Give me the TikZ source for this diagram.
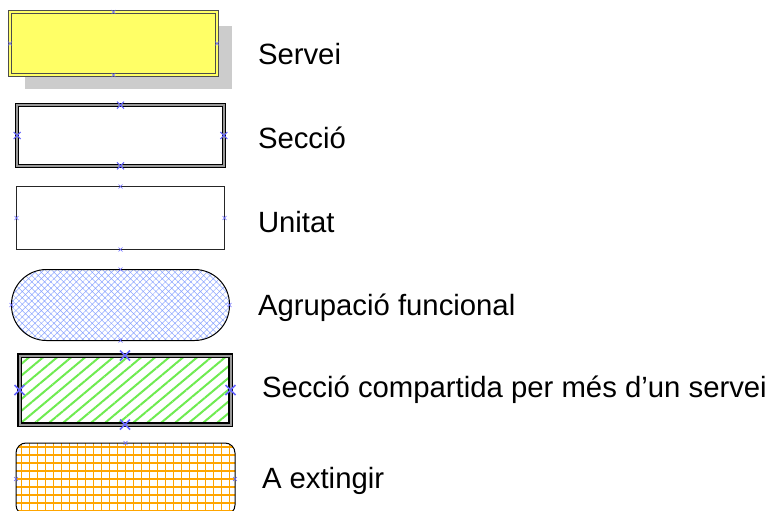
\documentclass[tikz,border=0pt]{standalone}
\usepackage{fontspec}
\setmainfont{Liberation Sans}
\usepackage{tikz}
\usetikzlibrary{calc,patterns.meta,shadows}
\definecolor{servyellow}{RGB}{255,255,102}
\definecolor{cpblue}{RGB}{102,102,255}
\definecolor{hatchblue}{RGB}{140,165,255}
\definecolor{stripegreen}{RGB}{110,235,80}
\definecolor{gridorange}{RGB}{255,165,0}
\newcommand{\cpmarks}[3]{%
  \foreach \a in {north,south,east,west}
    \draw[cpblue,line width=#3] ($(#1.\a)+(-#2,-#2)$) -- ($(#1.\a)+(#2,#2)$) ($(#1.\a)+(-#2,#2)$) -- ($(#1.\a)+(#2,-#2)$);%
}

\begin{document}
\begin{tikzpicture}[x=1pt,y=-1pt,every node/.style={inner sep=0pt,outer sep=0pt},
  lbl/.style={anchor=base west,font=\fontsize{29.3}{35}\selectfont},
  dblbox/.style={draw=black,line width=#1,double=black!40}]
\useasboundingbox (0,0) rectangle (772,511);

\node (servei) [draw=black!70,line width=0.9pt,double=servyellow,double distance=2.2pt,fill=servyellow,
  minimum width=207pt,minimum height=63pt,
  drop shadow={shadow xshift=15pt,shadow yshift=-14pt,fill=black!20,opacity=1}] at (113.5,43.5) {};
\node (seccio) [dblbox=1.2pt,double distance=1.8pt,fill=white,minimum width=206.6pt,minimum height=60.6pt] at (120.5,135.5) {};
\node (unitat) [draw=black!85,line width=1pt,fill=white,minimum width=208pt,minimum height=63pt] at (120.5,218) {};
\node (agrup) [draw=black,line width=1pt,rounded corners=35pt,pattern={Hatch[angle=45,distance=4.5pt,line width=0.5pt]},pattern color=hatchblue,
  minimum width=218pt,minimum height=71pt] at (120.5,305) {};
\node (compart) [dblbox=1.4pt,double distance=2pt,pattern={Lines[angle=40,distance=9pt,line width=2pt]},pattern color=stripegreen,
  minimum width=211pt,minimum height=69pt] at (125,390) {};
\node (extingir) [draw=black,line width=1pt,rounded corners=10pt,fill=white,
  path picture={\draw[gridorange,line width=1.3pt,yshift=0.5pt] (-120,-40) grid[step=8pt] (120,40);},
  minimum width=219pt,minimum height=72pt] at (125.5,479) {};

% punts de connexio
\cpmarks{servei}{2}{0.6pt}
\cpmarks{seccio}{3.5}{1pt}
\cpmarks{unitat}{2}{0.6pt}
\cpmarks{agrup}{2}{0.6pt}
\cpmarks{compart}{5}{1.6pt}
\cpmarks{extingir}{2}{0.6pt}

\node (lservei) [lbl] at (258,65) {Servei};
\node (lseccio) [lbl] at (258,148) {Secció};
\node (lunitat) [lbl] at (258,232) {Unitat};
\node (lagrup) [lbl] at (258,315) {Agrupació funcional};
\node (lcompart) [lbl] at (262,397) {Secció compartida per més d’un servei};
\node (lextingir) [lbl] at (262,488) {A extingir};
\end{tikzpicture}
\end{document}
